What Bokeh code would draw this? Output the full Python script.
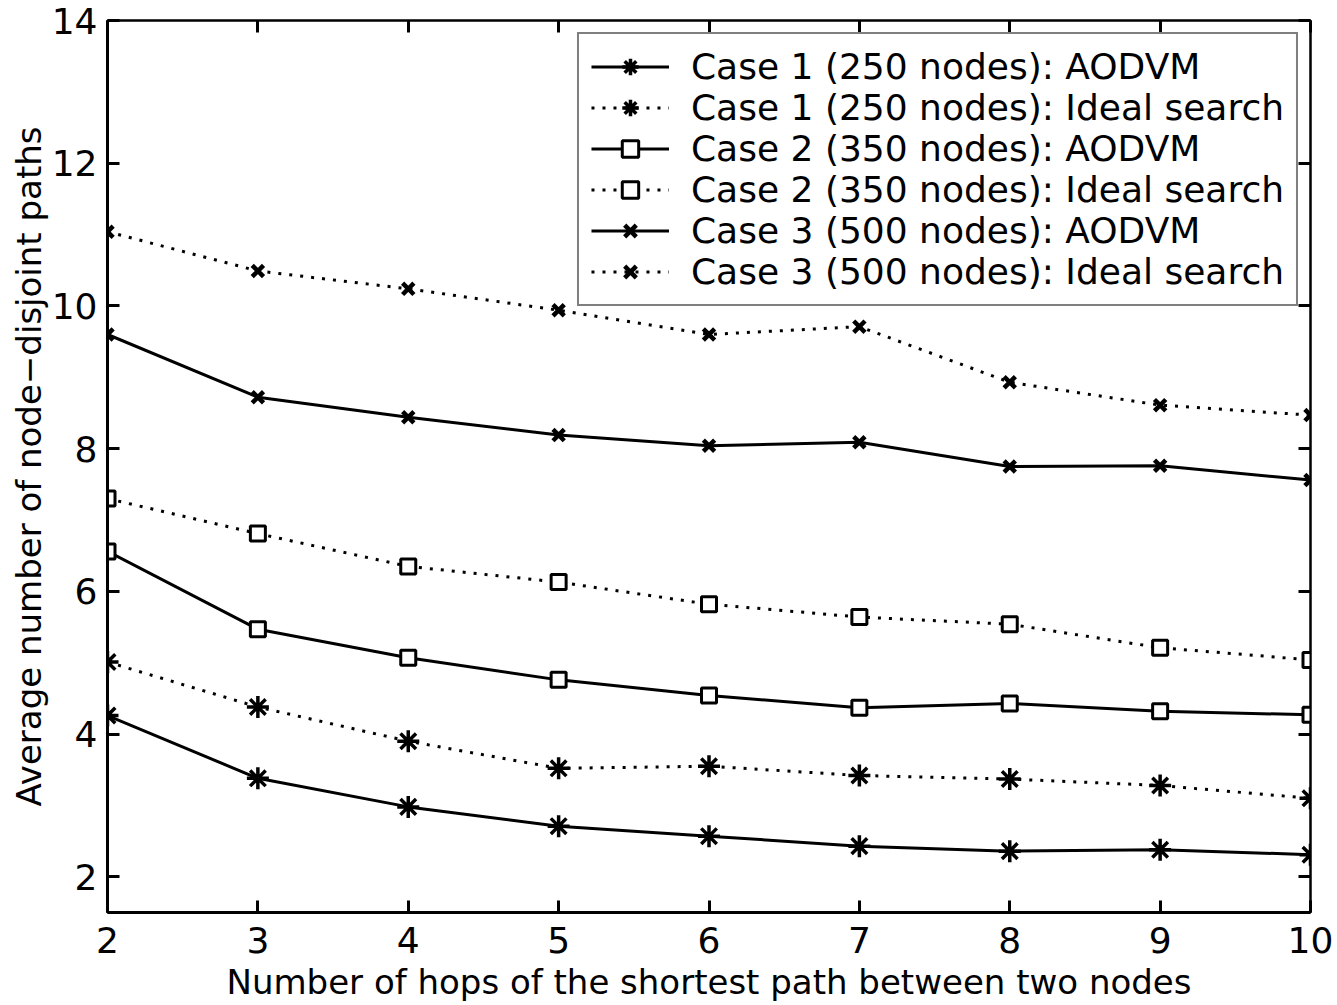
from bokeh.plotting import figure
from bokeh.models import Range1d, LinearAxis, FixedTicker, Legend, LegendItem
from bokeh.embed import file_html
from bokeh.resources import INLINE

hops = [2, 3, 4, 5, 6, 7, 8, 9, 10]
case1_aodvm = [4.26, 3.38, 2.98, 2.71, 2.57, 2.43, 2.36, 2.38, 2.31]
case1_ideal = [5.01, 4.38, 3.90, 3.52, 3.55, 3.42, 3.37, 3.28, 3.10]
case2_aodvm = [6.56, 5.47, 5.07, 4.76, 4.54, 4.37, 4.43, 4.32, 4.27]
case2_ideal = [7.30, 6.81, 6.35, 6.13, 5.82, 5.64, 5.54, 5.21, 5.04]
case3_aodvm = [9.60, 8.72, 8.44, 8.19, 8.04, 8.09, 7.75, 7.76, 7.56]
case3_ideal = [11.04, 10.49, 10.24, 9.94, 9.60, 9.71, 8.93, 8.61, 8.47]
labels = [
    "Case 1 (250 nodes): AODVM",
    "Case 1 (250 nodes): Ideal search",
    "Case 2 (350 nodes): AODVM",
    "Case 2 (350 nodes): Ideal search",
    "Case 3 (500 nodes): AODVM",
    "Case 3 (500 nodes): Ideal search",
]
x_ticks = [2, 3, 4, 5, 6, 7, 8, 9, 10]
y_ticks = [2, 4, 6, 8, 10, 12, 14]

FONT = "DejaVu Sans"
TICK_FS = "36px"
TITLE_FS = "34px"
LEG_FS = "36px"

p = figure(width=1335, height=1004, output_backend="svg", toolbar_location=None,
           x_range=Range1d(2, 10), y_range=Range1d(1.5, 14),
           min_border_left=107, min_border_right=25, min_border_top=20, min_border_bottom=89)
p.xgrid.visible = False
p.ygrid.visible = False
p.outline_line_color = "black"
p.outline_line_width = 2
p.background_fill_color = "white"
p.border_fill_color = "white"

series = [
    (case1_aodvm, "solid", "asterisk", 22, 3.5),
    (case1_ideal, "3 8", "asterisk", 22, 3.5),
    (case2_aodvm, "solid", "square", 15, 3),
    (case2_ideal, "3 8", "square", 15, 3),
    (case3_aodvm, "solid", "x", 16, 4.5),
    (case3_ideal, "3 8", "x", 16, 4.5),
]

items = []
for (ys, dash, marker, size, mlw), lab in zip(series, labels):
    r1 = p.line(hops, ys, line_color="black", line_width=3, line_dash=dash)
    r2 = p.scatter(hops, ys, marker=marker, size=size, line_color="black",
                   fill_color="white" if marker == "square" else "black", line_width=mlw)
    items.append(LegendItem(label=lab, renderers=[r1, r2]))

def style_axis(ax, show_labels):
    ax.major_tick_in = 12
    ax.major_tick_out = 0
    ax.minor_tick_in = 0
    ax.minor_tick_out = 0
    ax.axis_line_width = 3
    ax.major_tick_line_width = 3
    ax.major_label_text_font = FONT
    ax.major_label_text_font_size = TICK_FS
    ax.major_label_text_color = "black"
    ax.axis_label_text_font = FONT
    ax.axis_label_text_font_size = TITLE_FS
    ax.axis_label_text_font_style = "normal"
    ax.axis_label_text_color = "black"
    if not show_labels:
        ax.major_label_text_font_size = "0px"
        ax.major_label_text_alpha = 0

p.xaxis.ticker = FixedTicker(ticks=x_ticks)
p.yaxis.ticker = FixedTicker(ticks=y_ticks)
p.xaxis.axis_label = "Number of hops of the shortest path between two nodes"
p.yaxis.axis_label = "Average number of node\u2212disjoint paths"
style_axis(p.xaxis[0], True)
style_axis(p.yaxis[0], True)
p.xaxis.major_label_standoff = 14
p.xaxis.axis_label_standoff = 6
p.yaxis.major_label_standoff = 10
p.yaxis.axis_label_standoff = 0

ax_top = LinearAxis(ticker=FixedTicker(ticks=x_ticks))
ax_right = LinearAxis(ticker=FixedTicker(ticks=y_ticks))
style_axis(ax_top, False)
style_axis(ax_right, False)
ax_top.axis_line_width = 2
ax_right.axis_line_width = 2
p.add_layout(ax_top, "above")
p.add_layout(ax_right, "right")

legend = Legend(items=items, location="top_right")
legend.label_text_font = FONT
legend.label_text_font_size = LEG_FS
legend.label_text_color = "black"
legend.glyph_width = 78
legend.glyph_height = 41
legend.label_height = 41
legend.label_standoff = 22
legend.spacing = 0
legend.padding = 12
legend.margin = 12
legend.border_line_color = "black"
legend.border_line_width = 2
legend.background_fill_alpha = 1
legend.background_fill_color = "white"
p.add_layout(legend)

open("out.html", "w").write(file_html(p, INLINE))
